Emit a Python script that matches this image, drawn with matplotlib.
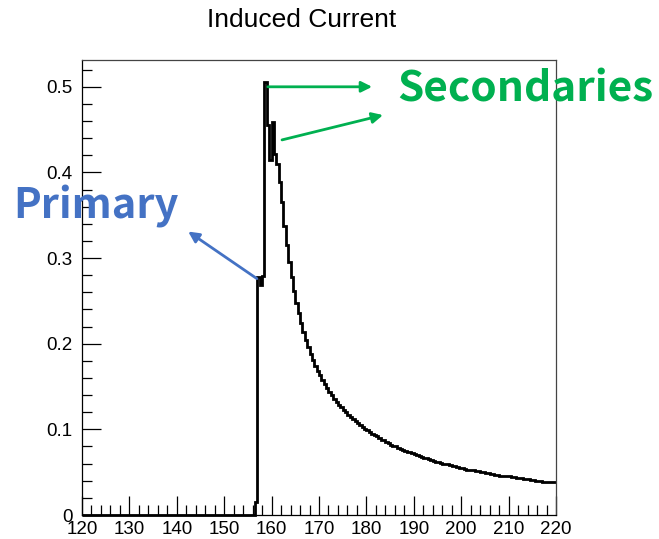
import numpy as np
import matplotlib
matplotlib.use('Agg')
import matplotlib.pyplot as plt
from matplotlib.ticker import MultipleLocator

# induced current histogram, 0.5 ns bins from 120 to 220 ns
bin_width = 0.5
t_min, t_max = 120.0, 220.0
quiet_bins = 73          # empty bins before the signal starts at 156.5 ns
current = [
    0.015, 0.278, 0.268, 0.279, 0.506, 0.455, 0.415, 0.459, 0.422, 0.410,   # 156.5 - 161.0
    0.389, 0.366, 0.338, 0.315, 0.296, 0.278, 0.262, 0.248, 0.236, 0.224,   # 161.5 - 166.0
    0.214, 0.204, 0.196, 0.188, 0.181, 0.174, 0.168, 0.163, 0.158, 0.153,   # 166.5 - 171.0
    0.148, 0.144, 0.140, 0.136, 0.132, 0.129, 0.126, 0.123, 0.120, 0.117,   # 171.5 - 176.0
    0.115, 0.112, 0.110, 0.107, 0.105, 0.103, 0.101, 0.099, 0.097, 0.095,   # 176.5 - 181.0
    0.093, 0.092, 0.090, 0.088, 0.087, 0.085, 0.084, 0.082, 0.081, 0.080,   # 181.5 - 186.0
    0.078, 0.077, 0.076, 0.075, 0.074, 0.073, 0.072, 0.071, 0.070, 0.069,   # 186.5 - 191.0
    0.068, 0.067, 0.066, 0.065, 0.064, 0.063, 0.062, 0.062, 0.061, 0.060,   # 191.5 - 196.0
    0.059, 0.059, 0.058, 0.057, 0.057, 0.056, 0.055, 0.055, 0.054, 0.053,   # 196.5 - 201.0
    0.053, 0.052, 0.052, 0.051, 0.051, 0.050, 0.050, 0.049, 0.049, 0.048,   # 201.5 - 206.0
    0.048, 0.047, 0.047, 0.046, 0.046, 0.045, 0.045, 0.045, 0.044, 0.044,   # 206.5 - 211.0
    0.043, 0.043, 0.043, 0.042, 0.042, 0.042, 0.041, 0.041, 0.040, 0.040,   # 211.5 - 216.0
    0.040, 0.039, 0.039, 0.039, 0.038, 0.038, 0.038,                        # 216.5 - 219.5
]
x_ticks = [120, 130, 140, 150, 160, 170, 180, 190, 200, 210, 220]
y_ticks = [0, 0.1, 0.2, 0.3, 0.4, 0.5]
y_labels = ['0', '0.1', '0.2', '0.3', '0.4', '0.5']

values = np.concatenate([np.zeros(quiet_bins), current])
edges = t_min + bin_width * np.arange(len(values) + 1)

plt.rcParams['font.family'] = ['Liberation Sans', 'DejaVu Sans']

W, H = 659, 539
fig = plt.figure(figsize=(W / 100, H / 100), dpi=100)
ax = fig.add_axes([82 / W, 1 - 515 / H, (556 - 82) / W, (515 - 60) / H])

ax.stairs(values, edges, baseline=None, color='black', lw=2.0, clip_on=False)

ax.set_xlim(t_min, t_max)
ax.set_ylim(0, 1.05 * max(current))

# ROOT-like frame: ticks inside, only on the left and bottom
ax.set_xticks(x_ticks)
ax.set_yticks(y_ticks)
ax.set_yticklabels(y_labels)
ax.xaxis.set_minor_locator(MultipleLocator(2))
ax.yaxis.set_minor_locator(MultipleLocator(0.02))
ax.tick_params(which='both', direction='in', top=False, right=False, width=0.9)
ax.tick_params(which='major', length=14, labelsize=13.5, pad=4)
ax.tick_params(which='minor', length=7)
ax.tick_params(axis='y', pad=7)
for sp in ax.spines.values():
    sp.set_linewidth(0.9)
    sp.set_color('#444444')
ax.spines['left'].set_color('black')
ax.spines['bottom'].set_color('black')

fig.text(302 / W, 1 - 20 / H, 'Induced Current', ha='center', va='center', fontsize=19)

# annotations
blue = '#4472C4'
green = '#00B050'
label_font = ['Noto Sans CJK JP', 'DejaVu Sans']
fig.text(96 / W, 1 - 207 / H, 'Primary', color=blue, fontsize=30, fontweight='bold',
         family=label_font, ha='center', va='center')
fig.text(525 / W, 1 - 89 / H, 'Secondaries', color=green, fontsize=30.5, fontweight='bold',
         family=label_font, ha='center', va='center')

arrow = dict(arrowstyle='-|>', lw=2, mutation_scale=16, shrinkA=0, shrinkB=0)
ax.annotate('', xy=(142.4, 0.331), xytext=(156.9, 0.276), annotation_clip=False,
            arrowprops=dict(arrow, color=blue))
ax.annotate('', xy=(181.2, 0.500), xytext=(159.2, 0.500), annotation_clip=False,
            arrowprops=dict(arrow, color=green))
ax.annotate('', xy=(183.5, 0.467), xytext=(162.2, 0.438), annotation_clip=False,
            arrowprops=dict(arrow, color=green))

fig.savefig('out.png', dpi=100)
